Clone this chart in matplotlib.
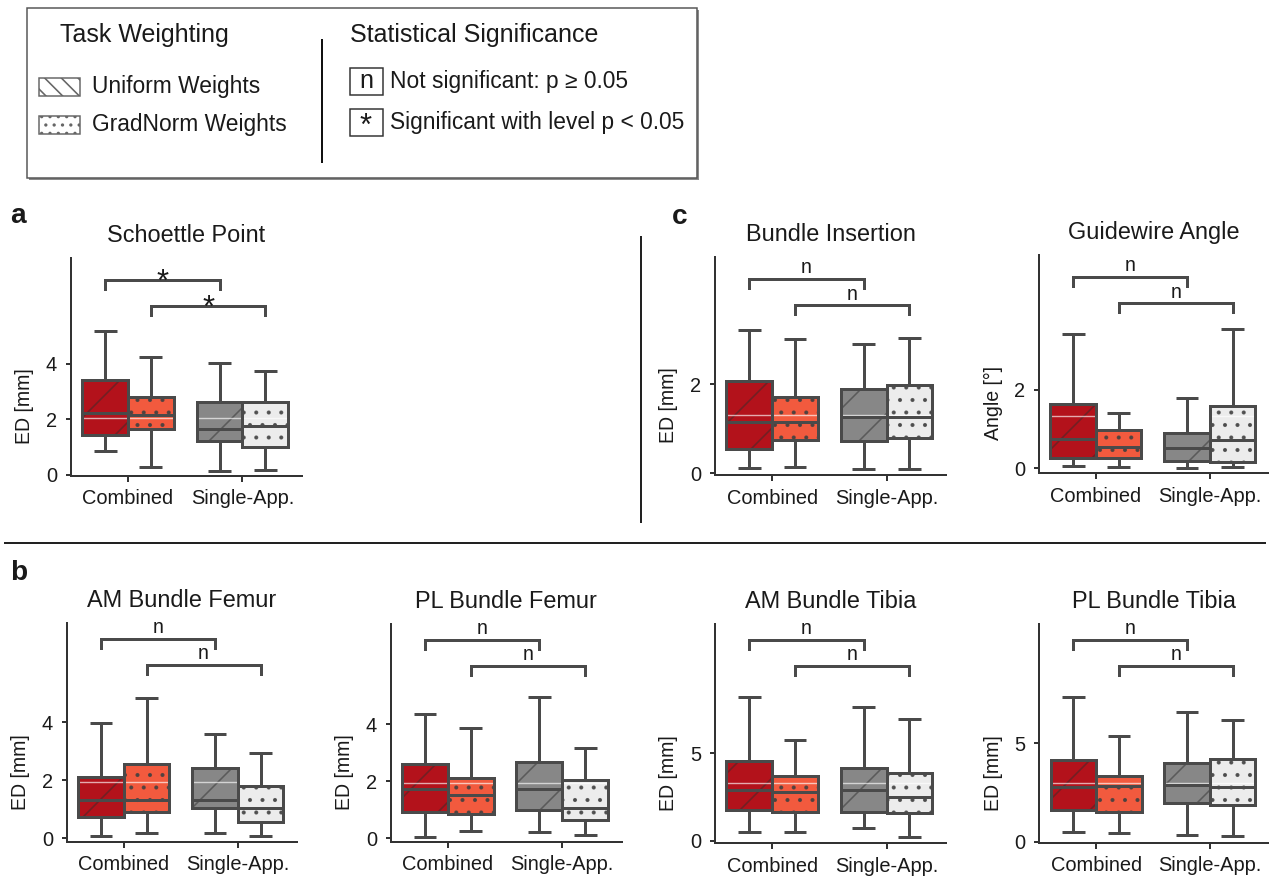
import matplotlib.pyplot as plt
from matplotlib.patches import Rectangle, PathPatch
from matplotlib.lines import Line2D

# figure is 1269 x 877 px; dpi 150 gives the coarse hatch spacing of the original
W, H, DPI = 1269, 877, 150
plt.rcParams['font.family'] = ['Liberation Sans', 'DejaVu Sans']


def pt(px):
    # pixel size -> points at this dpi
    return px * 72 / DPI


plt.rcParams['hatch.linewidth'] = pt(1.6)

groups = ['Combined', 'Single-App.']
weightings = ['Uniform Weights', 'GradNorm Weights']
box_colors = ['#b3121b', '#f25a3e', '#878787', '#ececec']
box_hatches = ['/', '..', '/', '..']

# each box: whisker low, q1, median, q3, whisker high
# order: Combined/Uniform, Combined/GradNorm, Single-App./Uniform, Single-App./GradNorm
schoettle_point = [[0.87, 1.44, 2.24, 3.41, 5.17],
                   [0.30, 1.64, 2.15, 2.81, 4.25],
                   [0.15, 1.20, 1.64, 2.60, 4.03],
                   [0.17, 0.99, 1.76, 2.60, 3.73]]
bundle_insertion = [[0.11, 0.54, 1.15, 2.06, 3.22],
                    [0.15, 0.74, 1.15, 1.71, 3.00],
                    [0.10, 0.73, 1.25, 1.90, 2.89],
                    [0.10, 0.78, 1.27, 1.99, 3.03]]
guidewire_angle = [[0.05, 0.27, 0.74, 1.63, 3.43],
                   [0.03, 0.25, 0.55, 0.98, 1.42],
                   [0.00, 0.19, 0.51, 0.91, 1.79],
                   [0.04, 0.17, 0.72, 1.59, 3.55]]
am_femur = [[0.08, 0.72, 1.32, 2.12, 3.97],
            [0.17, 0.90, 1.32, 2.55, 4.85],
            [0.17, 1.03, 1.32, 2.43, 3.60],
            [0.08, 0.57, 1.03, 1.81, 2.93]]
pl_femur = [[0.06, 0.91, 1.73, 2.60, 4.35],
            [0.26, 0.84, 1.50, 2.10, 3.88],
            [0.21, 0.99, 1.73, 2.69, 4.95],
            [0.12, 0.64, 1.05, 2.05, 3.16]]
am_tibia = [[0.48, 1.76, 2.90, 4.56, 8.21],
            [0.52, 1.62, 2.80, 3.72, 5.76],
            [0.71, 1.66, 2.90, 4.14, 7.67],
            [0.23, 1.57, 2.52, 3.86, 6.97]]
pl_tibia = [[0.48, 1.61, 2.80, 4.15, 7.37],
            [0.43, 1.49, 2.85, 3.36, 5.39],
            [0.34, 1.98, 2.88, 4.02, 6.61],
            [0.31, 1.87, 2.77, 4.19, 6.19]]

# light reference line drawn through the boxes
ref_lines = {'Schoettle Point': 2.06, 'Bundle Insertion': 1.30, 'Guidewire Angle': 1.34,
             'AM Bundle Femur': 1.93, 'PL Bundle Femur': 1.93,
             'AM Bundle Tibia': 3.29, 'PL Bundle Tibia': 2.97}
# significance: (Combined/Uniform vs Single/Uniform, Combined/GradNorm vs Single/GradNorm)
significance = {'Schoettle Point': ['*', '*'], 'Bundle Insertion': ['n', 'n'],
                'Guidewire Angle': ['n', 'n'], 'AM Bundle Femur': ['n', 'n'],
                'PL Bundle Femur': ['n', 'n'], 'AM Bundle Tibia': ['n', 'n'],
                'PL Bundle Tibia': ['n', 'n']}

EDGE = '#4a4a4a'
TXT = '#1a1a1a'
LW = pt(3.0)

fig = plt.figure(figsize=(W / DPI, H / DPI), dpi=DPI)


def fx(x):
    return x / W


def fy(y):
    return 1 - y / H


def axes_px(left, top, right, bottom):
    return fig.add_axes([left / W, 1 - bottom / H, (right - left) / W, (bottom - top) / H])


def draw_panel(rect, title, stats, ylabel, yticks, ylim, brackets):
    ax = axes_px(*rect)
    bstats = [dict(whislo=s[0], q1=s[1], med=s[2], q3=s[3], whishi=s[4], fliers=[]) for s in stats]
    pos = [g + (w - 0.5) * 0.4 for g in range(len(groups)) for w in range(len(weightings))]
    art = ax.bxp(bstats, positions=pos, widths=0.4, capwidths=0.2, patch_artist=True,
                 showfliers=False, manage_ticks=False,
                 boxprops=dict(linewidth=LW, edgecolor=EDGE),
                 whiskerprops=dict(color=EDGE, linewidth=LW, solid_capstyle='butt'),
                 capprops=dict(color=EDGE, linewidth=LW, solid_capstyle='butt'),
                 medianprops=dict(color=EDGE, linewidth=LW, solid_capstyle='butt'))
    for i, box in enumerate(art['boxes']):
        box.set_facecolor(box_colors[i])
        box.set_zorder(2)
        hatch_col = (0.18, 0.18, 0.18, 0.5) if box_hatches[i] == '/' else (0.25, 0.25, 0.25, 0.8)
        ax.add_patch(PathPatch(box.get_path(), facecolor='none', edgecolor=hatch_col,
                               hatch=box_hatches[i], linewidth=0, zorder=2.1))
        ax.add_patch(PathPatch(box.get_path(), facecolor='none', edgecolor=EDGE,
                               linewidth=LW, zorder=2.3))
    ax.axhline(ref_lines[title], color='white', alpha=0.65, lw=pt(1.4), zorder=2.2)
    for ln in art['whiskers'] + art['caps']:
        ln.set_zorder(2.4)
    for ln in art['medians']:
        ln.set_zorder(2.5)

    # significance brackets, y in axes fraction
    trans = ax.get_xaxis_transform()
    for k, (yb, lab) in enumerate(zip(brackets, significance[title])):
        x0, x1 = pos[k], pos[k + 2]
        ax.add_line(Line2D([x0, x0, x1, x1], [yb - 0.042, yb, yb, yb - 0.042], transform=trans,
                           color=EDGE, lw=LW, clip_on=False, solid_joinstyle='miter'))
        if lab == '*':
            ax.text((x0 + x1) / 2, yb - 0.05, lab, transform=trans, ha='center', va='baseline',
                    fontsize=pt(31), color=TXT, clip_on=False)
        else:
            ax.text((x0 + x1) / 2, yb + 0.025, lab, transform=trans, ha='center', va='baseline',
                    fontsize=pt(19.5), color=TXT, clip_on=False)

    ax.set_xlim(-0.5, 1.52)
    ax.set_ylim(*ylim)
    ax.set_xticks(range(len(groups)))
    ax.set_xticklabels(groups, fontsize=pt(20), color=TXT)
    ax.set_yticks(yticks)
    ax.set_yticklabels([str(t) for t in yticks], fontsize=pt(20), color=TXT)
    ax.tick_params(length=pt(5.5), width=pt(2), color='#333333', pad=pt(8))
    ax.set_ylabel(ylabel, fontsize=pt(19.5), color=TXT, va='center')
    ax.yaxis.set_label_coords(-0.2, 0.32)
    for side in ['top', 'right']:
        ax.spines[side].set_visible(False)
    for side in ['left', 'bottom']:
        ax.spines[side].set_linewidth(pt(2))
        ax.spines[side].set_color('#333333')
    # title placed on its baseline
    cx = (rect[0] + rect[2]) / 2
    ax.figure.text(fx(cx), fy(rect[1] - 16), title, ha='center', va='baseline',
                   fontsize=pt(23.5), color=TXT)
    return ax


top_br = [0.90, 0.78]
bot_br = [0.93, 0.81]
draw_panel((70.7, 258, 302, 476), 'Schoettle Point', schoettle_point, 'ED [mm]', [0, 2, 4],
           (-0.04, 7.79), top_br)
draw_panel((715, 257, 946, 475), 'Bundle Insertion', bundle_insertion, 'ED [mm]', [0, 2],
           (-0.04, 4.85), top_br)
draw_panel((1039, 255, 1269, 473.3), 'Guidewire Angle', guidewire_angle, 'Angle [°]', [0, 2],
           (-0.13, 5.44), top_br)
draw_panel((66.7, 623.3, 297, 841.7), 'AM Bundle Femur', am_femur, 'ED [mm]', [0, 2, 4],
           (-0.12, 7.41), bot_br)
draw_panel((390.7, 624.3, 621.7, 841.7), 'PL Bundle Femur', pl_femur, 'ED [mm]', [0, 2, 4],
           (-0.12, 7.5), bot_br)
draw_panel((715, 624.3, 946, 843.3), 'AM Bundle Tibia', am_tibia, 'ED [mm]', [0, 5],
           (-0.15, 12.39), bot_br)
draw_panel((1039.3, 624.3, 1269, 842.7), 'PL Bundle Tibia', pl_tibia, 'ED [mm]', [0, 5],
           (-0.05, 11.05), bot_br)

# panel letters
fig.text(fx(10), fy(223), 'a', fontsize=pt(28), fontweight='bold', va='baseline', color=TXT)
fig.text(fx(672), fy(224), 'c', fontsize=pt(28), fontweight='bold', va='baseline', color=TXT)
fig.text(fx(10), fy(580), 'b', fontsize=pt(28), fontweight='bold', va='baseline', color=TXT)

# separators
fig.add_artist(Line2D([fx(641), fx(641)], [fy(237), fy(522)], color='#222222', lw=pt(2)))
fig.add_artist(Line2D([fx(5), fx(1265)], [fy(543), fy(543)], color='#222222', lw=pt(2)))

# legend box
fig.add_artist(Rectangle((fx(29), fy(180)), fx(670), 170 / H, facecolor='#8a8a8a',
                         edgecolor='none', transform=fig.transFigure))
fig.add_artist(Rectangle((fx(27), fy(178)), fx(670), 170 / H, facecolor='white',
                         edgecolor='#555555', lw=pt(1.5), transform=fig.transFigure))
fig.text(fx(60), fy(35), 'Task Weighting', fontsize=pt(25), va='center', color=TXT)
fig.text(fx(350), fy(35), 'Statistical Significance', fontsize=pt(25), va='center', color=TXT)
fig.add_artist(Line2D([fx(321.7), fx(321.7)], [fy(40), fy(162)], color='#111111', lw=pt(2)))

legend_hatches = ['\\\\\\', '...']
for i, (lab, y) in enumerate(zip(weightings, [87, 125])):
    fig.add_artist(Rectangle((fx(39), fy(y + 8.5)), fx(41), 17 / H, facecolor='white',
                             edgecolor='#666666', lw=pt(1.5), hatch=legend_hatches[i],
                             transform=fig.transFigure))
    fig.text(fx(92), fy(y), lab, fontsize=pt(22.8), va='center', color=TXT)

sig_labels = ['n', '*']
sig_texts = ['Not significant: p ≥ 0.05', 'Significant with level p < 0.05']
for lab, txt, y in zip(sig_labels, sig_texts, [81.5, 122.5]):
    fig.add_artist(Rectangle((fx(349.5), fy(y + 13)), fx(33.5), 26 / H, facecolor='white',
                             edgecolor='#333333', lw=pt(1.5), transform=fig.transFigure))
    if lab == '*':
        fig.text(fx(366), fy(y + 12), lab, fontsize=pt(31), ha='center', va='baseline', color=TXT)
    else:
        fig.text(fx(366), fy(y), lab, fontsize=pt(25), ha='center', va='center', color=TXT)
    fig.text(fx(390), fy(y), txt, fontsize=pt(22.8), va='center', color=TXT)

fig.savefig('out.png', dpi=DPI)
